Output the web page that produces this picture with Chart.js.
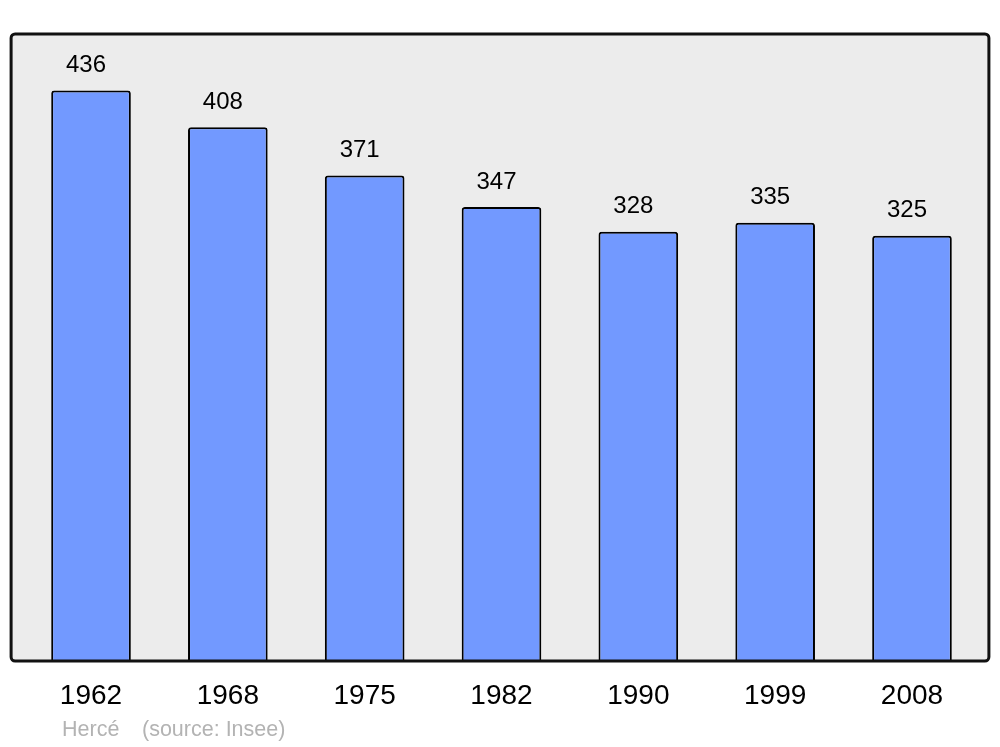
<!DOCTYPE html>
<html>
<head>
<meta charset="utf-8">
<title>Hercé - population</title>
<script src="https://cdn.jsdelivr.net/npm/chart.js@4/dist/chart.umd.min.js"></script>
<style>
    html, body { margin: 0; padding: 0; background: #ffffff; }
    #wrap { width: 1000px; height: 747px; position: relative; }
</style>
</head>
<body>
<div id="wrap"><canvas id="popChart" width="1000" height="747"></canvas></div>
<script>
// Population data (source: Insee)
const years = ['1962', '1968', '1975', '1982', '1990', '1999', '2008'];
const population = [436, 408, 371, 347, 328, 335, 325];
const yMax = 480;

const FONT = '"Liberation Sans", Arial, sans-serif';

// Grey frame behind the bars
const framePlugin = {
    id: 'frame',
    beforeDraw: function(chart) {
        const ctx = chart.ctx;
        const a = chart.chartArea;
        const x0 = a.left - 11.5, x1 = a.right + 8.5;
        const y0 = a.top + 1, y1 = a.bottom;
        ctx.save();
        ctx.beginPath();
        ctx.roundRect(x0, y0, x1 - x0, y1 - y0, 4);
        ctx.fillStyle = '#ececec';
        ctx.fill();
        ctx.restore();
    },
    afterDatasetsDraw: function(chart) {
        const ctx = chart.ctx;
        const a = chart.chartArea;
        const x0 = a.left - 11.5, x1 = a.right + 8.5;
        const y0 = a.top + 1, y1 = a.bottom;
        ctx.save();
        ctx.beginPath();
        ctx.roundRect(x0, y0, x1 - x0, y1 - y0, 4);
        ctx.lineWidth = 3;
        ctx.strokeStyle = '#111111';
        ctx.stroke();

        // values above the bars
        const meta = chart.getDatasetMeta(0);
        ctx.fillStyle = '#000000';
        ctx.font = '24px ' + FONT;
        ctx.textAlign = 'center';
        ctx.textBaseline = 'middle';
        meta.data.forEach(function(bar, i) {
            ctx.fillText(String(population[i]), bar.x - 5, bar.y - 25);
        });

        // footer
        ctx.fillStyle = '#b3b3b3';
        ctx.font = '21.5px ' + FONT;
        ctx.textAlign = 'left';
        ctx.fillText('Hercé', 62, 730);
        ctx.fillText('(source: Insee)', 142, 730);
        ctx.restore();
    }
};

new Chart(document.getElementById('popChart'), {
    type: 'bar',
    data: {
        labels: years,
        datasets: [{
            label: 'Population',
            data: population,
            backgroundColor: '#7299ff',
            borderColor: '#000000',
            borderWidth: 2,
            borderRadius: { topLeft: 3, topRight: 3 },
            borderSkipped: 'bottom',
            categoryPercentage: 1,
            barPercentage: 0.582
        }]
    },
    options: {
        responsive: false,
        animation: false,
        layout: {
            padding: { left: 22.6, right: 19.6, top: 33, bottom: 16.4 }
        },
        plugins: {
            legend: { display: false },
            tooltip: { enabled: false }
        },
        scales: {
            x: {
                grid: { display: false, drawTicks: false },
                border: { display: false },
                ticks: {
                    color: '#000000',
                    font: { family: FONT, size: 28 },
                    padding: 18,
                    maxRotation: 0
                }
            },
            y: {
                display: false,
                min: 0,
                max: yMax
            }
        }
    },
    plugins: [framePlugin]
});
</script>
</body>
</html>
